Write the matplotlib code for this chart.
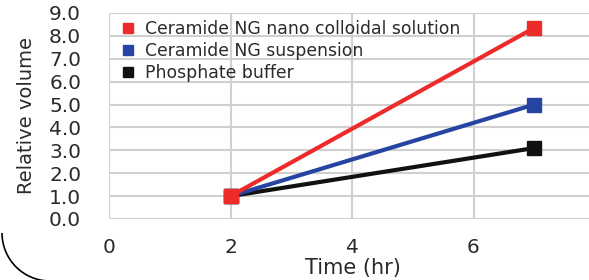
import matplotlib.pyplot as plt
from matplotlib.patches import Arc

# data
time_hr = [2, 7]
nano_colloid = [1.0, 8.35]
suspension = [1.0, 5.0]
phosphate = [1.0, 3.1]
series_names = ["Ceramide NG nano colloidal solution",
                "Ceramide NG suspension",
                "Phosphate buffer"]
x_ticks = [0, 2, 4, 6]
y_ticks = [0, 1, 2, 3, 4, 5, 6, 7, 8, 9]

W, H = 589, 280
fig = plt.figure(figsize=(W / 100, H / 100), dpi=100)
# right edge of the plot area runs off the picture
ax_w, ax_h = 595 - 109, 219 - 13
ax = fig.add_axes([109 / W, 1 - 219 / H, ax_w / W, ax_h / H])

grey = "#d0d0d0"
text_col = "#2a2a2a"
colors = ["#ee2b2b", "#2645a3", "#111111"]

# draw black first, red last so red sits on top at the shared start point
order = [(phosphate, series_names[2], colors[2]),
         (suspension, series_names[1], colors[1]),
         (nano_colloid, series_names[0], colors[0])]
for ys, name, c in order:
    ax.plot(time_hr, ys, color=c, lw=3, marker="s", ms=10,
            solid_capstyle="butt", label=name, zorder=3)

ax.set_xlim(0, 8)
ax.set_ylim(0, 9)
ax.set_xticks(x_ticks)
ax.set_yticks(y_ticks)
ax.set_yticklabels([f"{v:.1f}" for v in y_ticks])
ax.grid(True, color=grey, lw=1.5)
ax.set_axisbelow(True)
for s in ax.spines.values():
    s.set_visible(False)
ax.tick_params(length=0, labelsize=14.5, colors=text_col)
ax.tick_params(axis="y", pad=20)
ax.tick_params(axis="x", pad=14)
ax.set_ylabel("Relative volume", fontsize=14, color=text_col)
ax.yaxis.set_label_coords(-(109 - 36) / ax_w, 0.5)
ax.set_xlabel("Time (hr)", fontsize=15, color=text_col)
ax.xaxis.set_label_coords((353 - 109) / ax_w, -0.19)

handles, labels = ax.get_legend_handles_labels()
leg = ax.legend(handles[::-1], labels[::-1], loc="upper left",
                bbox_to_anchor=(9 / ax_w, 1 - 4 / ax_h), frameon=False,
                fontsize=12.4, handlelength=0.8, handletextpad=0.55,
                labelspacing=0.22, borderaxespad=0.0, borderpad=0.2,
                markerscale=0.75)
for h in leg.legend_handles:
    h.set_linestyle("none")
for t in leg.get_texts():
    t.set_color(text_col)

# rounded corner of the surrounding frame, bottom left
arc = Arc((50, H - 233), 96, 96, theta1=180, theta2=270,
          transform=None, color="black", lw=1.2)
fig.add_artist(arc)

fig.savefig("out.png", dpi=100)
